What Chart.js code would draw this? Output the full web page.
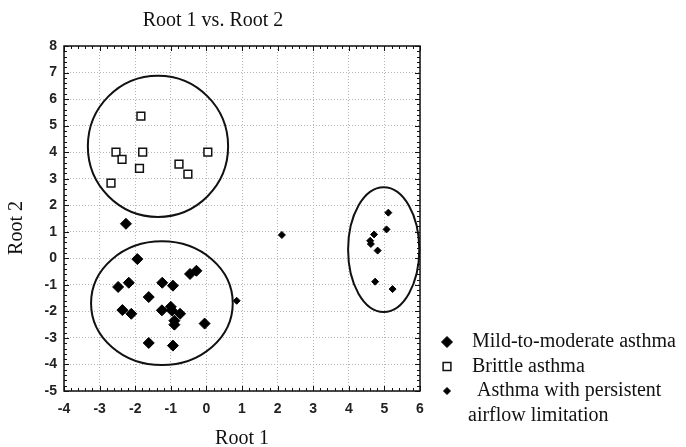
<!DOCTYPE html>
<html>
<head>
<meta charset="utf-8">
<script src="https://cdn.jsdelivr.net/npm/chart.js@4/dist/chart.umd.min.js"></script>
<style>
  html, body { margin: 0; padding: 0; background: #fff; }
  #wrap { width: 686px; height: 447px; position: relative; }
</style>
</head>
<body>
<div id="wrap"><canvas id="rootChart" width="686" height="447"></canvas></div>
<script>
// chart text
const chartTitle = "Root 1 vs. Root 2";
const xTitle = "Root 1";
const yTitle = "Root 2";

// axis ranges / ticks
const xTicks = [-4, -3, -2, -1, 0, 1, 2, 3, 4, 5, 6];
const yTicks = [-5, -4, -3, -2, -1, 0, 1, 2, 3, 4, 5, 6, 7, 8];

// Mild-to-moderate asthma (big filled diamonds)
const mildX = [-2.26, -1.94, -0.46, -0.28, -2.48, -2.18, -1.24, -0.94, -1.62, -2.36, -2.11, -1.25, -1.00, -0.97, -0.74, -0.90, -0.90, -0.05, -1.62, -0.94];
const mildY = [1.30, -0.03, -0.59, -0.47, -1.08, -0.92, -0.92, -1.03, -1.46, -1.95, -2.09, -1.96, -1.83, -1.97, -2.09, -2.35, -2.50, -2.46, -3.19, -3.29];

// Brittle asthma (open squares)
const brittleX = [-1.84, -2.54, -2.37, -1.79, -1.88, -0.77, -0.52, 0.04, -2.68];
const brittleY = [5.36, 4.00, 3.73, 4.00, 3.39, 3.55, 3.17, 4.00, 2.83];

// Asthma with persistent airflow limitation (small diamonds)
const persistX = [0.85, 2.12, 5.11, 5.06, 4.71, 4.60, 4.62, 4.81, 4.74, 5.23];
const persistY = [-1.60, 0.88, 1.72, 1.09, 0.90, 0.66, 0.54, 0.29, -0.88, -1.16];

// group ellipses: centre x, centre y, radius x, radius y (data units)
const ellipseCX = [-1.36, -1.25, 4.98];
const ellipseCY = [4.22, -1.69, 0.33];
const ellipseRX = [1.97, 1.99, 1.00];
const ellipseRY = [2.66, 2.33, 2.35];

// legend text, one array per entry (second line for the long one)
const legendLines = [
  ["Mild-to-moderate asthma"],
  ["Brittle asthma"],
  [" Asthma with persistent", "airflow limitation"]
];

const toPoints = (xs, ys) => xs.map((x, i) => ({ x: x, y: ys[i] }));

const serif = "'Liberation Serif', 'Times New Roman', serif";
const sans = "'Liberation Sans', Arial, sans-serif";

function drawMarker(ctx, style, r, x, y) {
  if (style === "rect") {
    const h = r * Math.SQRT1_2;
    ctx.rect(x - h, y - h, 2 * h, 2 * h);
  } else {
    ctx.moveTo(x, y - r);
    ctx.lineTo(x + r, y);
    ctx.lineTo(x, y + r);
    ctx.lineTo(x - r, y);
    ctx.closePath();
  }
}

//draws the frame, the little tick marks, the ellipses, title and legend
const framePlugin = {
  id: "frame",
  afterDatasetsDraw(chart) {
    const { ctx, chartArea: a, scales } = chart;
    const xs = scales.x, ys = scales.y;
    ctx.save();
    // ellipses
    ctx.strokeStyle = "#111";
    ctx.lineWidth = 2;
    for (let i = 0; i < ellipseCX.length; i++) {
      const cx = xs.getPixelForValue(ellipseCX[i]);
      const cy = ys.getPixelForValue(ellipseCY[i]);
      const rx = Math.abs(xs.getPixelForValue(ellipseCX[i] + ellipseRX[i]) - cx);
      const ry = Math.abs(ys.getPixelForValue(ellipseCY[i] + ellipseRY[i]) - cy);
      ctx.beginPath();
      ctx.ellipse(cx, cy, rx, ry, 0, 0, Math.PI * 2);
      ctx.stroke();
    }
    // frame
    ctx.lineWidth = 1.5;
    ctx.strokeRect(a.left, a.top, a.right - a.left, a.bottom - a.top);
    // minor + major ticks, inward on all 4 sides
    ctx.lineWidth = 1;
    ctx.beginPath();
    for (let k = 0; k <= 50; k++) {
      const v = xs.min + k * 0.2;
      const px = Math.round(xs.getPixelForValue(v)) + 0.5;
      const len = k % 5 === 0 ? 5 : 3;
      ctx.moveTo(px, a.top); ctx.lineTo(px, a.top + len);
      ctx.moveTo(px, a.bottom); ctx.lineTo(px, a.bottom - len);
    }
    for (let k = 0; k <= 65; k++) {
      const v = ys.min + k * 0.2;
      const py = Math.round(ys.getPixelForValue(v)) + 0.5;
      const len = k % 5 === 0 ? 5 : 3;
      ctx.moveTo(a.left, py); ctx.lineTo(a.left + len, py);
      ctx.moveTo(a.right, py); ctx.lineTo(a.right - len, py);
    }
    ctx.stroke();
    ctx.restore();
  },
  afterDraw(chart) {
    const { ctx } = chart;
    ctx.save();
    // title
    ctx.fillStyle = "#111";
    ctx.font = "20px " + serif;
    ctx.textAlign = "center";
    ctx.textBaseline = "middle";
    ctx.fillText(chartTitle, 213, 21);

    // y axis title, a bit lower than the chart area middle like the original
    ctx.save();
    ctx.translate(17, 228);
    ctx.rotate(-Math.PI / 2);
    ctx.fillText(yTitle, 0, 0);
    ctx.restore();

    // legend
    const rowH = 24.5;
    let y = 342;
    ctx.textAlign = "left";
    chart.data.datasets.forEach((ds, i) => {
      ctx.fillStyle = ds.backgroundColor;
      ctx.strokeStyle = ds.borderColor;
      ctx.lineWidth = ds.borderWidth;
      ctx.beginPath();
      drawMarker(ctx, ds.pointStyle, ds.pointRadius, 447, y);
      ctx.fill();
      ctx.stroke();
      ctx.fillStyle = "#111";
      legendLines[i].forEach((line, j) => {
        ctx.fillText(line, j === 0 ? 472 : 468, y);
        y += rowH;
      });
    });
    ctx.restore();
  }
};

new Chart(document.getElementById("rootChart"), {
  type: "scatter",
  data: {
    datasets: [
      {
        label: "Mild-to-moderate asthma",
        data: toPoints(mildX, mildY),
        pointStyle: "rectRot",
        pointRadius: 5.5,
        backgroundColor: "#000",
        borderColor: "#000",
        borderWidth: 1
      },
      {
        label: "Brittle asthma",
        data: toPoints(brittleX, brittleY),
        pointStyle: "rect",
        pointRadius: 5.5,
        backgroundColor: "#fff",
        borderColor: "#111",
        borderWidth: 1.5
      },
      {
        label: "Asthma with persistent airflow limitation",
        data: toPoints(persistX, persistY),
        pointStyle: "rectRot",
        pointRadius: 3.5,
        backgroundColor: "#000",
        borderColor: "#000",
        borderWidth: 1
      }
    ]
  },
  options: {
    responsive: false,
    animation: false,
    devicePixelRatio: 1,
    layout: { padding: { top: 46, right: 266, bottom: 0, left: 0 } },
    plugins: {
      legend: { display: false },
      title: { display: false },
      tooltip: { enabled: false }
    },
    scales: {
      x: {
        type: "linear",
        min: xTicks[0],
        max: xTicks[xTicks.length - 1],
        afterBuildTicks: (s) => { s.ticks = xTicks.map((v) => ({ value: v })); },
        afterFit: (s) => { s.height = 56; },
        grid: { color: "#b4b4b4", lineWidth: 1, drawTicks: false },
        border: { display: false, dash: [1, 2] },
        ticks: { color: "#222", padding: 10, autoSkip: false, maxRotation: 0, font: { family: sans, size: 14, weight: "bold" } },
        title: {
          display: true, text: xTitle, color: "#111",
          font: { family: serif, size: 20, lineHeight: 0.8 },
          padding: { top: 0, bottom: 0 }
        }
      },
      y: {
        type: "linear",
        min: yTicks[0],
        max: yTicks[yTicks.length - 1],
        afterBuildTicks: (s) => { s.ticks = yTicks.map((v) => ({ value: v })); },
        afterFit: (s) => { s.width = 64; },
        grid: { color: "#b4b4b4", lineWidth: 1, drawTicks: false },
        border: { display: false, dash: [1, 2] },
        ticks: { color: "#222", padding: 7, autoSkip: false, font: { family: sans, size: 14, weight: "bold" } },
        title: { display: false }
      }
    }
  },
  plugins: [framePlugin]
});
</script>
</body>
</html>
